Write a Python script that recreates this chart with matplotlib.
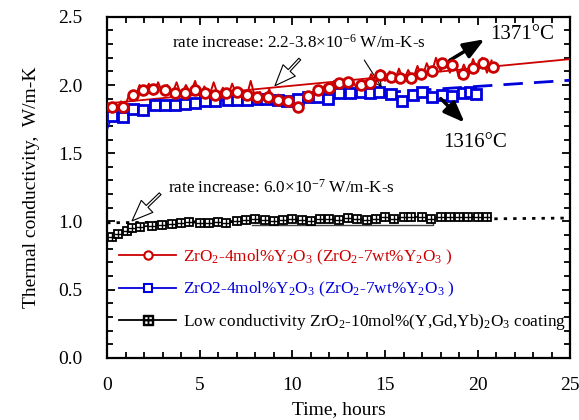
import matplotlib.pyplot as plt
import numpy as np
from matplotlib.lines import Line2D
from matplotlib.ticker import MultipleLocator

plt.rcParams['font.family'] = ['Liberation Serif', 'DejaVu Serif']
plt.rcParams['mathtext.fontset'] = 'custom'
plt.rcParams['mathtext.rm'] = 'Liberation Serif'
plt.rcParams['mathtext.it'] = 'Liberation Serif:italic'

RED = '#cc0000'
BLUE = '#0000dd'

# ZrO2-4mol%Y2O3 at 1371C, circle markers
red_t = [0.25, 0.86, 1.4, 1.95, 2.5, 3.1, 3.67, 4.2, 4.75, 5.3, 5.8, 6.4, 7.0, 7.56,
         8.1, 8.7, 9.2, 9.75, 10.3, 10.85, 11.4, 12.0, 12.5, 13.0, 13.7, 14.2, 14.75,
         15.3, 15.8, 16.4, 16.95, 17.55, 18.1, 18.6, 19.2, 19.75, 20.3, 20.85]
red_k = [1.84, 1.84, 1.93, 1.965, 1.97, 1.965, 1.945, 1.94, 1.965, 1.94, 1.93, 1.94,
         1.95, 1.93, 1.915, 1.915, 1.89, 1.88, 1.84, 1.92, 1.965, 1.98, 2.015, 2.02,
         2.0, 2.015, 2.075, 2.06, 2.05, 2.055, 2.08, 2.10, 2.16, 2.15, 2.08, 2.125,
         2.16, 2.135]
# raw noisy trace behind the red markers (every 0.25 h)
red_raw = [1.78, 1.86, 1.82, 1.88, 1.86, 1.95, 1.90, 2.00, 1.94, 2.01, 1.93, 2.02,
           1.94, 2.00, 1.93, 2.02, 1.92, 2.00, 1.94, 2.03, 1.92, 1.99, 1.91, 2.02,
           1.92, 1.98, 1.91, 2.01, 1.92, 1.97, 1.90, 2.03, 1.90, 1.95, 1.88, 1.97,
           1.88, 1.93, 1.86, 1.91, 1.85, 1.88, 1.84, 1.93, 1.90, 1.98, 1.93, 2.00,
           1.96, 2.03, 1.98, 2.04, 1.98, 2.03, 1.97, 2.04, 1.99, 2.08, 2.02, 2.11,
           2.03, 2.10, 2.02, 2.12, 2.03, 2.11, 2.04, 2.14, 2.05, 2.16, 2.08, 2.20,
           2.10, 2.19, 2.09, 2.17, 2.05, 2.15, 2.07, 2.19, 2.10, 2.20, 2.09, 2.18]
red_raw_t = np.arange(len(red_raw)) * 0.25

# ZrO2-4mol%Y2O3 at 1316C, square markers (first value is the trace start, no marker)
blue_t = [0.02, 0.25, 0.86, 1.4, 1.95, 2.6, 3.1, 3.67, 4.2, 4.75, 5.3, 5.83, 6.5, 7.0,
          7.56, 8.1, 8.6, 9.2, 9.7, 10.3, 10.85, 11.4, 11.9, 12.5, 13.1, 13.7, 14.2,
          14.7, 15.3, 15.9, 16.5, 17.0, 17.55, 18.1, 18.6, 19.2, 19.6, 19.9]
blue_k = [1.68, 1.77, 1.765, 1.825, 1.82, 1.85, 1.85, 1.855, 1.86, 1.87, 1.88, 1.88,
          1.89, 1.89, 1.89, 1.90, 1.895, 1.89, 1.88, 1.895, 1.915, 1.915, 1.895, 1.94,
          1.945, 1.95, 1.94, 1.95, 1.935, 1.885, 1.93, 1.95, 1.915, 1.93, 1.92, 1.94,
          1.95, 1.935]

# low conductivity ZrO2-10mol%(Y,Gd,Yb)2O3 coating
black_t = [0.27, 0.59, 1.08, 1.35, 1.78, 2.4, 2.95, 3.5, 4.0, 4.4, 5.0, 5.5, 6.0, 6.4,
           7.0, 7.5, 8.0, 8.5, 9.0, 9.5, 10.0, 10.5, 11.0, 11.5, 12.0, 12.5, 13.0,
           13.5, 14.0, 14.5, 15.0, 15.5, 16.0, 16.4, 17.0, 17.5, 18.0, 18.5, 19.0,
           19.5, 20.0, 20.5]
black_k = [0.885, 0.91, 0.93, 0.95, 0.96, 0.97, 0.975, 0.98, 0.985, 0.995, 0.99, 0.99,
           0.995, 0.99, 1.0, 1.01, 1.02, 1.01, 1.0, 1.01, 1.02, 1.01, 1.0, 1.02, 1.02,
           1.01, 1.025, 1.02, 1.01, 1.02, 1.03, 1.02, 1.03, 1.035, 1.03, 1.02, 1.035,
           1.035, 1.03, 1.03, 1.035, 1.035]
gray_t = [7.8, 17.6, 17.6]
gray_k = [0.975, 0.975, 0.99]

# linear fits
fit_t = [0, 25]
red_fit = [1.865, 2.19]
blue_fit = [1.81, 2.035]
black_fit = [0.99, 1.025]

fig = plt.figure(figsize=(5.79, 4.20), dpi=100)
ax = fig.add_axes([0.185, 0.148, 0.8, 0.812])

ax.plot(fit_t, blue_fit, color=BLUE, lw=2, ls=(0, (7, 4)), zorder=1)
ax.plot(fit_t, red_fit, color=RED, lw=1.3, zorder=3)
ax.plot(fit_t, black_fit, color='black', lw=2, ls=(0, (1.2, 2.2)), zorder=1)

ax.plot(red_raw_t, red_raw, color=RED, lw=1.4, zorder=2)
ax.plot(red_t, red_k, ls='none', marker='o', ms=7, mfc='white', mec=RED, mew=2, zorder=4)

ax.plot(blue_t, blue_k, color=BLUE, lw=1.2, marker='s', ms=7, mfc='white', mec=BLUE,
        mew=2, markevery=slice(1, None), zorder=3)

ax.plot(gray_t, gray_k, color='#444444', lw=1, zorder=2)
ax.plot(black_t, black_k, color='black', lw=1.2, marker='s', ms=5.5, mfc='white',
        mec='black', mew=1.3, zorder=3)
ax.plot(black_t, black_k, ls='none', marker='+', ms=5.5, mec='black', mew=1, zorder=4)

ax.set_xlim(0, 25)
ax.set_ylim(0, 2.5)
ax.xaxis.set_major_locator(MultipleLocator(5))
ax.xaxis.set_minor_locator(MultipleLocator(1))
ax.yaxis.set_major_locator(MultipleLocator(0.5))
ax.yaxis.set_minor_locator(MultipleLocator(0.1))
ax.yaxis.set_major_formatter(plt.FormatStrFormatter('%.1f'))
ax.tick_params(which='both', direction='in', top=True, right=True, width=1.3)
ax.tick_params(which='major', length=6, labelsize=14)
ax.tick_params(axis='x', which='major', pad=14)
ax.tick_params(axis='y', which='major', pad=18)
ax.tick_params(which='minor', length=4)
for s in ax.spines.values():
    s.set_linewidth(1.6)

ax.set_xlabel('Time, hours', fontsize=14, labelpad=5)
ax.set_ylabel('Thermal conductivity,  W/m-K', fontsize=14, labelpad=13)

# annotations
open_arrow = dict(arrowstyle='simple,head_width=0.8,head_length=1.0,tail_width=0.12',
                  fc='white', ec='black', lw=0.8, mutation_scale=15)
bold_arrow = dict(arrowstyle='-|>,head_width=0.35,head_length=0.9', color='black',
                  lw=2.5, mutation_scale=14)
ax.annotate('', xy=(8.96, 1.98), xytext=(10.5, 2.205), arrowprops=open_arrow)
ax.annotate('', xy=(14.9, 1.965), xytext=(13.8, 2.2),
            arrowprops=dict(arrowstyle='->', color='black', lw=0.8))
ax.text(3.5, 2.31, 'rate increase: 2.2-3.8$\\times$10$^{-6}$ W/m-K-s', fontsize=12.3,
        va='center')

ax.annotate('', xy=(1.24, 0.99), xytext=(2.97, 1.217), arrowprops=open_arrow)
ax.text(3.3, 1.245, 'rate increase: 6.0$\\times$10$^{-7}$ W/m-K-s', fontsize=12.3,
        va='center')

ax.annotate('', xy=(20.5, 2.346), xytext=(18.36, 2.17), arrowprops=bold_arrow)
ax.text(20.7, 2.37, '1371°C', fontsize=15, va='center')
ax.annotate('', xy=(19.4, 1.71), xytext=(17.9, 1.915), arrowprops=bold_arrow)
ax.text(18.15, 1.58, '1316°C', fontsize=15, va='center')

handles = [
    Line2D([], [], color=RED, lw=1.3, marker='o', ms=6, mfc='white', mec=RED, mew=1.5),
    Line2D([], [], color=BLUE, lw=1.3, marker='s', ms=6, mfc='white', mec=BLUE, mew=1.5),
    Line2D([], [], color='black', lw=1.3, marker='$\\boxplus$', ms=7, mec='black'),
]
labels = [
    'ZrO$_2$-4mol%Y$_2$O$_3$ (ZrO$_2$-7wt%Y$_2$O$_3$ )',
    'ZrO2-4mol%Y$_2$O$_3$ (ZrO$_2$-7wt%Y$_2$O$_3$ )',
    'Low conductivity ZrO$_2$-10mol%(Y,Gd,Yb)$_2$O$_3$ coating',
]
leg = ax.legend(handles, labels, loc='lower left', bbox_to_anchor=(0.0, 0.04),
                frameon=False, fontsize=12.4, handlelength=3.3, handletextpad=0.4,
                labelspacing=0.75, borderaxespad=0.3)
for txt, c in zip(leg.get_texts(), [RED, BLUE, 'black']):
    txt.set_color(c)

fig.savefig('out.png', dpi=100)
